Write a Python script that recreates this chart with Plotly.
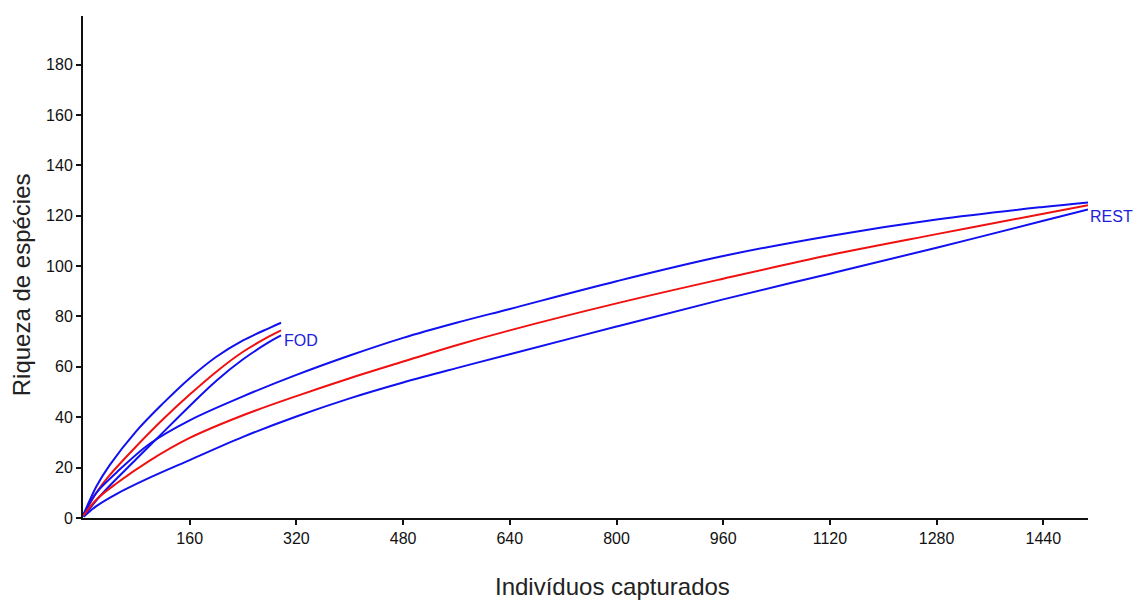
import plotly.graph_objects as go

# FOD rarefaction (individuals vs species)
fod_x = [1, 20, 40, 80, 120, 160, 200, 240, 280, 297]
fod_upper = [1.5, 12.5, 21, 34.5, 45.5, 55.5, 64, 70.5, 75.5, 77.5]
fod_mean = [1, 10, 17, 28.5, 39.2, 49, 58.1, 66, 72.2, 74.5]
fod_lower = [0.5, 7, 12.8, 23.4, 34, 44.5, 54.5, 63, 70, 72.5]

# REST rarefaction
rest_x = [1, 20, 50, 100, 160, 240, 320, 400, 480, 560, 640, 800, 960, 1120, 1280, 1440, 1507]
rest_upper = [1.5, 10, 18, 29.5, 38.8, 48.3, 56.8, 64.5, 71.5, 77.5, 83, 94, 104, 112, 118.5, 123.5, 125.3]
rest_mean = [1, 7.3, 13.7, 22.8, 31.8, 40.8, 48.4, 55.5, 62.1, 68.6, 74.5, 85.2, 95, 104.4, 112.7, 120.8, 124.2]
rest_lower = [0.5, 4.7, 9.5, 16, 23, 32.2, 40.3, 47.5, 53.8, 59.5, 65, 76, 86.8, 97, 107.3, 118, 122.5]

x_ticks = [160, 320, 480, 640, 800, 960, 1120, 1280, 1440]
y_ticks = [0, 20, 40, 60, 80, 100, 120, 140, 160, 180]

BLUE = "#1010F0"
RED = "#F01010"
FONT = "Liberation Sans, Arial"

fig = go.Figure()

def add(x, y, color):
    fig.add_trace(go.Scatter(x=x, y=y, mode="lines",
                             line=dict(color=color, width=2, shape="spline", smoothing=1.0),
                             showlegend=False, hoverinfo="skip"))

add(fod_x, fod_upper, BLUE)
add(fod_x, fod_lower, BLUE)
add(fod_x, fod_mean, RED)
add(rest_x, rest_upper, BLUE)
add(rest_x, rest_lower, BLUE)
add(rest_x, rest_mean, RED)

fig.add_annotation(x=fod_x[-1], y=fod_mean[-1], text="FOD", showarrow=False,
                   xanchor="left", yanchor="middle", xshift=1, yshift=-10,
                   font=dict(family=FONT, size=16, color="#2020E0"))
fig.add_annotation(x=rest_x[-1], y=rest_mean[-1], text="REST", showarrow=False,
                   xanchor="left", yanchor="middle", xshift=0, yshift=-11,
                   font=dict(family=FONT, size=16, color="#2020E0"))

fig.add_annotation(text="Indivíduos capturados", xref="paper", yref="paper",
                   x=0.527, y=-0.105, xanchor="center", yanchor="top", showarrow=False,
                   font=dict(family=FONT, size=24, color="#222222"))
fig.add_annotation(text="Riqueza de espécies", xref="paper", yref="paper",
                   x=-0.061, y=0.465, xanchor="center", yanchor="middle", textangle=-90,
                   showarrow=False,
                   font=dict(family=FONT, size=24, color="#222222"))

fig.update_layout(
    width=1137, height=600,
    margin=dict(l=83, r=49, t=16, b=82),
    plot_bgcolor="white", paper_bgcolor="white",
    font=dict(family=FONT, size=16, color="#111111"),
    xaxis=dict(range=[0, 1507], tickvals=x_ticks, ticktext=[str(v) for v in x_ticks],
               showgrid=False, zeroline=False, showline=True, linecolor="#111111", linewidth=2,
               ticks="outside", ticklen=5, tickwidth=1.5, tickcolor="#111111",
               tickfont=dict(size=16)),
    yaxis=dict(range=[0, 199.3], tickvals=y_ticks, ticktext=[str(v) for v in y_ticks],
               showgrid=False, zeroline=False, showline=True, linecolor="#111111", linewidth=2,
               ticks="outside", ticklen=5, tickwidth=1.5, tickcolor="#111111",
               tickfont=dict(size=16)),
)

# remove the default 8px page margin so the figure fills the window exactly
fig.write_html("out.html", config={"displayModeBar": False},
               post_script="document.body.style.margin='0';document.body.style.overflow='hidden';")
